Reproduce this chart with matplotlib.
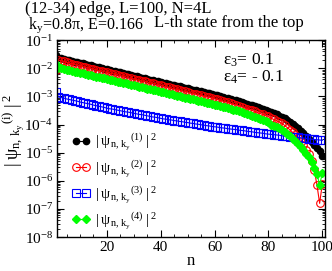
import numpy as np
import matplotlib
matplotlib.use("Agg")
import matplotlib.pyplot as plt
from matplotlib.ticker import MultipleLocator, LogLocator, NullFormatter

plt.rcParams['font.family'] = ['Liberation Serif', 'DejaVu Serif']
plt.rcParams['mathtext.fontset'] = 'custom'
plt.rcParams['mathtext.rm'] = 'Liberation Serif'
plt.rcParams['mathtext.it'] = 'Liberation Serif:italic'
plt.rcParams['mathtext.bf'] = 'Liberation Serif:bold'

n = list(range(1, 101))

# log10 of |psi|^2
psi1_log10 = [-1.53, -1.63, -1.65, -1.67, -1.70, -1.72, -1.74, -1.77, -1.79, -1.81,
              -1.83, -1.86, -1.88, -1.90, -1.92, -1.95, -1.97, -1.99, -2.01, -2.04,
              -2.06, -2.08, -2.10, -2.13, -2.15, -2.17, -2.19, -2.22, -2.24, -2.26,
              -2.28, -2.31, -2.33, -2.35, -2.37, -2.40, -2.42, -2.44, -2.46, -2.49,
              -2.51, -2.53, -2.55, -2.58, -2.60, -2.62, -2.64, -2.67, -2.69, -2.71,
              -2.73, -2.76, -2.78, -2.80, -2.82, -2.85, -2.87, -2.89, -2.91, -2.94,
              -2.96, -2.99, -3.01, -3.04, -3.06, -3.09, -3.12, -3.14, -3.17, -3.20,
              -3.23, -3.26, -3.29, -3.32, -3.35, -3.38, -3.41, -3.44, -3.48, -3.51,
              -3.55, -3.59, -3.63, -3.68, -3.73, -3.78, -3.84, -3.90, -3.97, -4.05,
              -4.13, -4.22, -4.31, -4.41, -4.51, -4.61, -4.71, -4.82, -4.95, -5.12]

psi2_log10 = [-2.07, -1.71, -1.73, -1.76, -1.79, -1.81, -1.84, -1.87, -1.89, -1.92,
              -1.94, -1.97, -1.99, -2.01, -2.03, -2.06, -2.08, -2.10, -2.12, -2.15,
              -2.17, -2.19, -2.21, -2.24, -2.26, -2.29, -2.31, -2.34, -2.36, -2.38,
              -2.40, -2.43, -2.45, -2.47, -2.49, -2.52, -2.54, -2.56, -2.58, -2.61,
              -2.64, -2.66, -2.68, -2.71, -2.73, -2.75, -2.77, -2.80, -2.82, -2.84,
              -2.87, -2.90, -2.92, -2.94, -2.96, -2.99, -3.01, -3.03, -3.05, -3.08,
              -3.11, -3.14, -3.16, -3.19, -3.21, -3.25, -3.28, -3.30, -3.33, -3.36,
              -3.41, -3.44, -3.47, -3.50, -3.53, -3.58, -3.61, -3.64, -3.68, -3.71,
              -3.78, -3.82, -3.86, -3.91, -3.96, -4.03, -4.11, -4.19, -4.28, -4.38,
              -4.49, -4.61, -4.74, -4.89, -5.06, -5.30, -5.62, -6.15, -6.80, -6.10]

psi3_log10 = [-2.84, -3.02, -3.04, -3.06, -3.09, -3.11, -3.13, -3.15, -3.17, -3.20,
              -3.22, -3.24, -3.26, -3.28, -3.31, -3.33, -3.35, -3.37, -3.39, -3.42,
              -3.44, -3.45, -3.47, -3.49, -3.51, -3.53, -3.55, -3.56, -3.58, -3.60,
              -3.62, -3.64, -3.65, -3.67, -3.69, -3.71, -3.73, -3.74, -3.76, -3.78,
              -3.80, -3.81, -3.83, -3.84, -3.86, -3.87, -3.89, -3.90, -3.92, -3.93,
              -3.95, -3.96, -3.98, -3.99, -4.01, -4.02, -4.04, -4.05, -4.07, -4.08,
              -4.09, -4.11, -4.12, -4.13, -4.15, -4.16, -4.17, -4.18, -4.20, -4.21,
              -4.22, -4.24, -4.25, -4.26, -4.28, -4.29, -4.30, -4.31, -4.33, -4.34,
              -4.35, -4.36, -4.37, -4.38, -4.40, -4.41, -4.42, -4.43, -4.44, -4.45,
              -4.46, -4.47, -4.48, -4.49, -4.51, -4.52, -4.53, -4.54, -4.55, -4.56]

psi4_log10 = [-1.85, -1.98, -2.00, -2.02, -2.05, -2.07, -2.09, -2.12, -2.14, -2.16,
              -2.18, -2.21, -2.23, -2.25, -2.27, -2.30, -2.32, -2.34, -2.36, -2.39,
              -2.41, -2.43, -2.45, -2.48, -2.50, -2.52, -2.54, -2.57, -2.59, -2.61,
              -2.63, -2.66, -2.68, -2.70, -2.72, -2.75, -2.77, -2.79, -2.81, -2.84,
              -2.86, -2.88, -2.90, -2.93, -2.95, -2.97, -2.99, -3.02, -3.04, -3.06,
              -3.08, -3.11, -3.13, -3.15, -3.17, -3.20, -3.22, -3.24, -3.26, -3.29,
              -3.31, -3.34, -3.36, -3.39, -3.41, -3.44, -3.47, -3.49, -3.52, -3.55,
              -3.60, -3.63, -3.66, -3.69, -3.72, -3.78, -3.81, -3.84, -3.88, -3.91,
              -4.00, -4.04, -4.08, -4.13, -4.18, -4.26, -4.34, -4.42, -4.51, -4.60,
              -4.70, -4.80, -4.91, -5.03, -5.16, -5.32, -5.55, -5.75, -6.15, -5.72]

labels = [r'$|\;\mathrm{ψ}_{\mathrm{n,\,k_y}}{}^{\mathrm{(%d)}}\;|^{\;2}$' % i for i in (1, 2, 3, 4)]

fig = plt.figure(figsize=(3.32, 2.71), dpi=100)
ax = fig.add_axes([0.172, 0.125, 0.807, 0.727])

ax.plot(n, 10 ** np.array(psi1_log10), color='black', marker='o', ms=4.5, lw=0.8,
        mfc='black', mec='black', label=labels[0])
ax.plot(n, 10 ** np.array(psi2_log10), color='red', marker='o', ms=5.5, lw=0.8,
        mfc='none', mec='red', mew=0.8, label=labels[1])
ax.plot(n, 10 ** np.array(psi3_log10), color='blue', marker='s', ms=6, lw=0.8,
        mfc='none', mec='blue', mew=0.8, label=labels[2])
ax.plot(n, 10 ** np.array(psi4_log10), color='#00ff00', marker='D', ms=4, lw=0.8,
        mfc='#00ff00', mec='#00ff00', label=labels[3])

ax.set_yscale('log')
ax.set_ylim(1e-8, 1e-1)
ax.set_xlim(1.5, 101)
ax.xaxis.set_major_locator(MultipleLocator(20))
ax.xaxis.set_minor_locator(MultipleLocator(5))
ax.yaxis.set_major_locator(LogLocator(base=10, numticks=20))
ax.yaxis.set_minor_locator(LogLocator(base=10, subs=np.arange(2, 10), numticks=20))
ax.yaxis.set_minor_formatter(NullFormatter())
ax.tick_params(which='both', direction='in', top=True, right=True, labelsize=11)
ax.tick_params(which='major', length=5, width=0.8, pad=3)
ax.tick_params(which='minor', length=2.5, width=0.6)
for s in ax.spines.values():
    s.set_linewidth(1.0)

ax.set_xlabel('n', fontsize=12, labelpad=-1)
fig.text(0.04, 0.517, r'$|\;\mathrm{ψ}_{\mathrm{n,\,k_y}}{}^{\mathrm{(i)}}\;|^{\;2}$',
         rotation=90, ha='center', va='center', fontsize=13)

fig.text(0.355, 0.997, '(12-34) edge, L=100, N=4L', ha='center', va='top', fontsize=12)
fig.text(0.085, 0.943, r'$\mathrm{k_y}$=0.8π, E=0.166', ha='left', va='top', fontsize=11.5)
fig.text(0.465, 0.943, 'L-th state from the top', ha='left', va='top', fontsize=12)

ax.text(0.62, 0.898, r'$\mathrm{ε_3}$= 0.1', transform=ax.transAxes, fontsize=12.5, ha='left', va='center')
ax.text(0.62, 0.812, r'$\mathrm{ε_4}$= - 0.1', transform=ax.transAxes, fontsize=12.5, ha='left', va='center')

leg = ax.legend(loc='upper left', bbox_to_anchor=(0.055, 0.535), frameon=False, numpoints=2,
                fontsize=10.5, handlelength=1.3, handletextpad=0.3, labelspacing=0.38,
                borderaxespad=0, borderpad=0)

fig.savefig('out.png', dpi=100)
